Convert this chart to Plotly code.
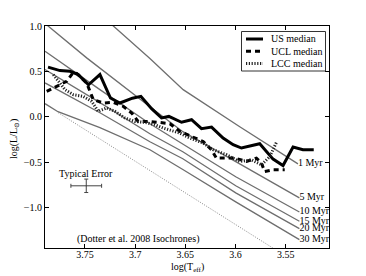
import plotly.graph_objects as go

# ---- data (log Teff, log L/Lsun) ----
us_teff = [3.7868, 3.7749, 3.7649, 3.7567, 3.7465, 3.7351, 3.7246, 3.7152, 3.7027, 3.6943, 3.6836, 3.6737, 3.6664,
           3.6538, 3.6438, 3.6339, 3.6239, 3.6124, 3.6024, 3.5941, 3.5759, 3.5626, 3.5527, 3.5427, 3.5328, 3.5221]
us_lum = [0.547, 0.509, 0.501, 0.465, 0.353, 0.465, 0.207, 0.152, 0.205, 0.225, 0.089, -0.013, 0.004,
          -0.060, -0.032, -0.131, -0.113, -0.234, -0.308, -0.344, -0.297, -0.466, -0.537, -0.333, -0.363, -0.363]

ucl_teff = [3.7881, 3.7766, 3.7682, 3.7616, 3.7580, 3.7483, 3.7417, 3.7318, 3.7218, 3.7119, 3.7035, 3.6970, 3.6870,
            3.6754, 3.6654, 3.6555, 3.6438, 3.6323, 3.6240, 3.6190, 3.6107, 3.6007, 3.5891, 3.5792, 3.5742, 3.5709,
            3.5626, 3.5510]
ucl_lum = [0.280, 0.349, 0.391, 0.490, 0.476, 0.373, 0.189, 0.152, 0.159, 0.115, 0.042, -0.051, -0.051,
           -0.062, -0.076, -0.161, -0.216, -0.272, -0.363, -0.455, -0.455, -0.455, -0.492, -0.455, -0.510, -0.603,
           -0.584, -0.584]

lcc_teff = [3.7815, 3.7766, 3.7699, 3.7616, 3.7517, 3.7433, 3.7368, 3.7284, 3.7201, 3.7102, 3.7002, 3.6903, 3.6803,
            3.6721, 3.6621, 3.6555, 3.6455, 3.6323, 3.6223, 3.6090, 3.5958, 3.5841, 3.5742, 3.5659, 3.5590]
lcc_lum = [0.465, 0.391, 0.299, 0.244, 0.225, 0.170, 0.060, 0.097, 0.060, -0.013, -0.051, -0.062, -0.087,
           -0.124, -0.161, -0.179, -0.234, -0.289, -0.363, -0.418, -0.492, -0.474, -0.529, -0.440, -0.275]

# isochrones (Dotter et al. 2008)
iso_labels = ["1 Myr", "5 Myr", "10 Myr", "15 Myr", "20 Myr", "30 Myr"]
iso_teff = [
    [3.7351, 3.7218, 3.6853, 3.6522, 3.5958, 3.5378],
    [3.7898, 3.7483, 3.6853, 3.6525, 3.5941, 3.5364],
    [3.7898, 3.7351, 3.6853, 3.6525, 3.5998, 3.5364],
    [3.7898, 3.7351, 3.6853, 3.6525, 3.5998, 3.5364],
    [3.7898, 3.7351, 3.6853, 3.6525, 3.5998, 3.5364],
    [3.7898, 3.7769, 3.7351, 3.6853, 3.6525, 3.5998, 3.5364],
]
iso_lum = [
    [1.132, 1.000, 0.641, 0.299, -0.109, -0.518],
    [1.028, 0.649, 0.111, -0.164, -0.529, -0.893],
    [0.722, 0.299, -0.076, -0.297, -0.661, -1.048],
    [0.520, 0.156, -0.187, -0.385, -0.760, -1.150],
    [0.373, 0.045, -0.275, -0.462, -0.838, -1.232],
    [0.145, 0.056, -0.120, -0.363, -0.581, -0.937, -1.353],
]
dotted_teff = [3.7766, 3.5510]
dotted_lum = [0.045, -1.528]

err_teff = [3.7487]
err_lum = [-0.760]
err_dteff = [0.0153]
err_dlum = [0.074]

legend_names = ["US median", "UCL median", "LCC median"]

FONT = "Liberation Serif, DejaVu Serif, serif"
GRAY = "#6e6e6e"
US_LINE = dict(color="black", width=3)
UCL_LINE = dict(color="black", width=3, dash="5px,4px")
LCC_LINE = dict(color="#222222", width=3, dash="1.2px,1.6px")

fig = go.Figure()

for xs, ys in zip(iso_teff, iso_lum):
    fig.add_trace(go.Scatter(x=xs, y=ys, mode="lines", line=dict(color=GRAY, width=1.3),
                             showlegend=False, hoverinfo="skip"))
fig.add_trace(go.Scatter(x=dotted_teff, y=dotted_lum, mode="lines",
                         line=dict(color="#888888", width=1, dash="1px,1.5px"),
                         showlegend=False, hoverinfo="skip"))

# isochrone labels at line ends, clipped at axes
fig.add_trace(go.Scatter(x=[t[-1] for t in iso_teff], y=[l[-1] for l in iso_lum], mode="text",
                         text=iso_labels, textposition="middle right",
                         textfont=dict(family=FONT, size=10, color="black"),
                         cliponaxis=True, showlegend=False, hoverinfo="skip"))

fig.add_trace(go.Scatter(x=us_teff, y=us_lum, mode="lines", name=legend_names[0], line=US_LINE,
                         showlegend=False))
fig.add_trace(go.Scatter(x=ucl_teff, y=ucl_lum, mode="lines", name=legend_names[1], line=UCL_LINE,
                         showlegend=False))
fig.add_trace(go.Scatter(x=lcc_teff, y=lcc_lum, mode="lines", name=legend_names[2], line=LCC_LINE,
                         showlegend=False))

fig.add_trace(go.Scatter(x=err_teff, y=err_lum, mode="markers", marker=dict(size=1, color="#444"),
                         error_x=dict(type="data", array=err_dteff, color="#444", thickness=1, width=2),
                         error_y=dict(type="data", array=err_dlum, color="#444", thickness=1, width=2),
                         showlegend=False, hoverinfo="skip"))

fig.add_annotation(x=3.749, y=-0.620, text="Typical Error", showarrow=False,
                   font=dict(family=FONT, size=10, color="black"))
fig.add_annotation(x=3.697, y=-1.349, text="(Dotter et al. 2008 Isochrones)", showarrow=False,
                   font=dict(family=FONT, size=10, color="black"))

# ---- legend box (compact, matplotlib-like) ----
L, T, W, H = 45, 26, 284, 222   # plot area in pixels


def px(xp):
    return (xp - L) / W


def py(yp):
    return 1 - (yp - T) / H


fig.add_shape(type="rect", xref="paper", yref="paper", x0=px(241.5), x1=px(325.5), y0=py(71), y1=py(31.5),
              line=dict(color="#333", width=1), fillcolor="white", layer="above")
for i, (name, ln) in enumerate(zip(legend_names, [US_LINE, UCL_LINE, LCC_LINE])):
    yy = py(39 + 12.2 * i)
    fig.add_shape(type="line", xref="paper", yref="paper", x0=px(246), x1=px(263), y0=yy, y1=yy,
                  line=ln, layer="above")
    fig.add_annotation(xref="paper", yref="paper", x=px(269), y=yy, text=name, showarrow=False,
                       xanchor="left", yanchor="middle", font=dict(family=FONT, size=10, color="black"))

# axis titles
fig.add_annotation(xref="paper", yref="paper", x=px(187), y=py(267), text="log(T<sub>eff</sub>)",
                   showarrow=False, xanchor="center", yanchor="middle",
                   font=dict(family=FONT, size=10, color="black"))
fig.add_annotation(xref="paper", yref="paper", x=px(14), y=py(139), text="log(L/L<sub>\u2299</sub>)",
                   showarrow=False, textangle=-90, xanchor="center", yanchor="middle",
                   font=dict(family=FONT, size=10, color="black"))

axis_common = dict(showline=True, linecolor="black", linewidth=1, mirror="allticks", ticks="inside",
                   ticklen=4, tickwidth=0.8, tickcolor="black", showgrid=False, zeroline=False,
                   automargin=False, tickfont=dict(family=FONT, size=10, color="black"))

fig.update_xaxes(range=[3.7898, 3.5069], tickvals=[3.75, 3.7, 3.65, 3.6, 3.55],
                 ticktext=["3.75", "3.7", "3.65", "3.6", "3.55"], ticklabelstandoff=-3, **axis_common)
fig.update_yaxes(range=[-1.445, 1.0], tickvals=[1.0, 0.5, 0.0, -0.5, -1.0],
                 ticktext=["1.0", "0.5", "0.0", "\u22120.5", "\u22121.0"], **axis_common)

fig.update_layout(
    width=366, height=276,
    margin=dict(l=L, r=366 - L - W, t=T, b=276 - T - H),
    plot_bgcolor="white", paper_bgcolor="white",
    font=dict(family=FONT, size=10, color="black"),
    showlegend=False,
)

fig.write_html("out.html", config={"displayModeBar": False},
               post_script="document.body.style.margin='0';document.body.style.overflow='hidden';")
